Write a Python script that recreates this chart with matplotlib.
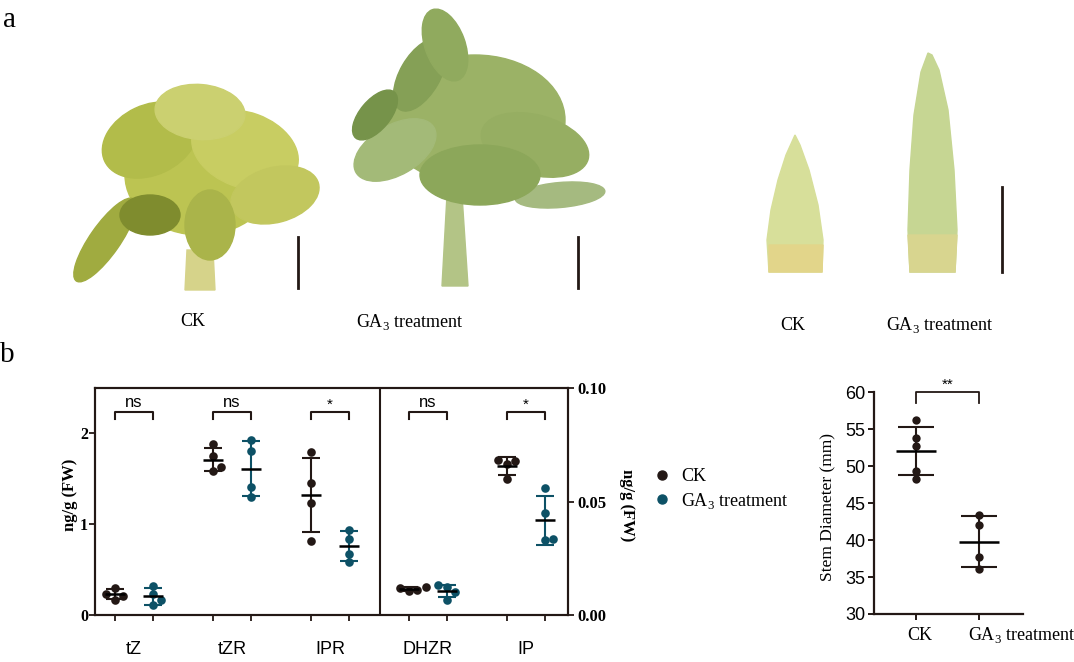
import numpy as np
import matplotlib.pyplot as plt
from matplotlib.patches import Ellipse, Polygon
from matplotlib.lines import Line2D
import matplotlib.transforms as mtrans

plt.rcParams['mathtext.fontset'] = 'custom'
plt.rcParams['mathtext.rm'] = 'Liberation Serif'
SERIF = 'Liberation Serif'
SANS = 'Liberation Sans'

# hormone data (ng/g FW), 4 replicates each
left_groups = ['tZ', 'tZR', 'IPR']
left_ck = [[0.30, 0.23, 0.21, 0.17],
           [1.88, 1.75, 1.63, 1.59],
           [1.79, 1.45, 1.23, 0.81]]
left_ga = [[0.32, 0.23, 0.16, 0.11],
           [1.93, 1.81, 1.41, 1.30],
           [0.94, 0.84, 0.67, 0.58]]
left_sig = ['ns', 'ns', '*']

right_groups = ['DHZR', 'IP']
right_ck = [[0.0125, 0.0117, 0.0112, 0.0106],
            [0.0685, 0.0680, 0.0665, 0.0600]]
right_ga = [[0.0130, 0.0125, 0.0100, 0.0068],
            [0.0558, 0.0448, 0.0335, 0.0330]]
right_sig = ['ns', '*']

# stem diameter (mm)
stem_labels = ['CK', r'GA$_3$ treatment']
stem_ck = [56.3, 53.8, 52.7, 49.3, 48.3]
stem_ga = [43.4, 42.0, 37.7, 36.1]
stem_sig = '**'

CK_COL = '#231815'
GA_COL = '#0d5166'
W, H = 1074, 662


def swarm(vals, ypx, xpx, d=8.5):
    vals = np.asarray(vals, float)
    offs = np.zeros(len(vals))
    placed = []
    for i in np.argsort(vals):
        y = vals[i] * ypx
        for c in [0, d, -d, 2 * d, -2 * d, 3 * d]:
            if all(np.hypot(c - px, y - py) >= d * 0.95 for px, py in placed):
                break
        placed.append((c, y))
        offs[i] = c / xpx
    return offs


def draw_group(ax, pos, vals, col, ypx, xpx, half=0.1, cap=6.5, ms=6.2, d=8.5):
    vals = np.asarray(vals, float)
    m, s = vals.mean(), vals.std(ddof=1)
    ax.errorbar(pos, m, yerr=s, fmt='none', ecolor=col, elinewidth=1.5,
                capsize=cap, capthick=1.5, zorder=2)
    ax.plot(pos + swarm(vals, ypx, xpx, d), vals, 'o', color=col, ms=ms,
            mec='none', zorder=3, clip_on=False)
    ax.hlines(m, pos - half, pos + half, color='black', lw=1.8, zorder=4)


fig = plt.figure(figsize=(W / 100, H / 100), dpi=100)

# ---- panel a: photo placeholders ----
bg = fig.add_axes([0, 0, 1, 1], zorder=-5)
bg.set_xlim(0, W)
bg.set_ylim(H, 0)
bg.axis('off')

ck_leaves = [(200, 175, 150, 120, 0, '#bcc452'), (150, 140, 100, 70, -25, '#b2bc4a'),
             (245, 150, 110, 75, 20, '#c8cd62'), (275, 195, 90, 55, -15, '#c2c75e'),
             (200, 112, 90, 55, 5, '#cbd070'), (105, 240, 100, 30, -55, '#a0ab40'),
             (150, 215, 60, 40, 0, '#7f8c2e'), (210, 225, 50, 70, 0, '#aab44a')]
ga_leaves = [(475, 120, 180, 130, 0, '#9bb266'), (420, 75, 80, 40, -60, '#85a056'),
             (395, 150, 90, 50, -30, '#a3ba78'), (535, 145, 110, 60, 15, '#96ae62'),
             (560, 195, 90, 25, -5, '#a5ba80'), (445, 45, 40, 75, -20, '#90aa5e'),
             (375, 115, 60, 30, -50, '#76934a'), (480, 175, 120, 60, 0, '#8ca75a')]
bg.add_patch(Polygon([(187, 250), (213, 250), (215, 290), (185, 290)], color='#d6d38a'))
bg.add_patch(Polygon([(447, 195), (462, 195), (468, 286), (442, 286)], color='#b3c486'))
for cx, cy, w, h, a, c in ck_leaves + ga_leaves:
    bg.add_patch(Ellipse((cx, cy), w, h, angle=a, color=c))
bg.add_patch(Polygon([(795, 135), (786, 155), (778, 180), (771, 210), (767, 240), (769, 272),
                      (822, 272), (823, 240), (818, 205), (809, 170), (800, 145)],
                     color='#d7df9a'))
bg.add_patch(Polygon([(769, 245), (823, 245), (822, 272), (769, 272)], color='#e2d58a'))
bg.add_patch(Polygon([(928, 53), (921, 72), (914, 115), (910, 170), (908, 230), (910, 272),
                      (955, 272), (957, 230), (954, 170), (948, 110), (939, 70), (932, 55)],
                     color='#c6d693'))
bg.add_patch(Polygon([(908, 235), (957, 235), (955, 272), (910, 272)], color='#d8d58f'))
for x, y0, y1 in [(298, 237, 288), (578, 237, 288), (1002, 187, 272)]:
    bg.plot([x, x], [y0, y1], color=CK_COL, lw=2)

bg.text(3, 27, 'a', fontsize=21, family=SERIF, va='baseline')
bg.text(0, 362, 'b', fontsize=21, family=SERIF, va='baseline')
for x, y, t in [(193, 322, 'CK'), (410, 322, r'GA$_3$ treatment'),
                (793, 325, 'CK'), (940, 325, r'GA$_3$ treatment')]:
    bg.text(x, y, t, fontsize=13, family=SERIF, ha='center', va='center')

# ---- panel b: hormone contents ----
ax = fig.add_axes([95 / W, 1 - 615 / H, 473 / W, 227 / H])
ax.set_xlim(-0.398, 4.43)
ax.set_ylim(0, 2.5)
ax2 = ax.twinx()
ax2.set_ylim(0, 0.1)
xpx = 98
for a_ in (ax, ax2):
    for sp in a_.spines.values():
        sp.set_linewidth(1.5)
        sp.set_color(CK_COL)
ax.axvline(2.51, color=CK_COL, lw=1.5)

pair = 0.194
for i, g in enumerate(left_groups):
    draw_group(ax, i - pair, left_ck[i], CK_COL, 91, xpx)
    draw_group(ax, i + pair, left_ga[i], GA_COL, 91, xpx)
for j, g in enumerate(right_groups):
    i = j + 3
    draw_group(ax2, i - pair, right_ck[j], CK_COL, 2270, xpx)
    draw_group(ax2, i + pair, right_ga[j], GA_COL, 2270, xpx)

trans = mtrans.blended_transform_factory(ax.transData, ax.transAxes)
names = left_groups + right_groups
sigs = left_sig + right_sig
for i, (g, sg) in enumerate(zip(names, sigs)):
    ax.plot([i - pair, i - pair, i + pair, i + pair], [0.862, 0.896, 0.896, 0.862],
            color=CK_COL, lw=1.5, transform=trans)
    ax.text(i, 0.935 if sg == 'ns' else 0.925, sg, transform=trans, ha='center',
            va='center', family=SANS, fontsize=12 if sg == 'ns' else 11)
    ax.text(i, -0.154, g, transform=trans, ha='center', va='center',
            family=SANS, fontsize=13)

xt = [i + s for i in range(5) for s in (-pair, pair)]
ax.set_xticks(xt, [''] * len(xt))
ax.tick_params(axis='x', direction='out', length=4.5, width=1.3, color=CK_COL)
ax.set_yticks([0, 1, 2], ['0', '1', '2'], family=SERIF, fontweight='bold', fontsize=11.5)
ax.tick_params(axis='y', direction='out', length=4, width=1.3, pad=1, color=CK_COL)
ax2.set_yticks([0, 0.05, 0.1], ['0.00', '0.05', '0.10'], family=SERIF,
               fontweight='bold', fontsize=12)
ax2.tick_params(axis='y', direction='out', length=4, width=1.3, pad=3, color=CK_COL)

fig.text(70 / W, 1 - 495 / H, 'ng/g (FW)', rotation=90, ha='center', va='center',
         family=SERIF, fontweight='bold', fontsize=12)
fig.text(627 / W, 1 - 505 / H, 'ng/g (FW)', rotation=270, ha='center', va='center',
         family=SERIF, fontweight='bold', fontsize=12)

handles = [Line2D([], [], ls='none', marker='o', color=CK_COL, ms=6.5),
           Line2D([], [], ls='none', marker='o', color=GA_COL, ms=6.5)]
fig.legend(handles, ['CK', r'GA$_3$ treatment'], loc='center left',
           bbox_to_anchor=(644 / W, 1 - 489.5 / H), frameon=False, borderpad=0,
           handlelength=1, handletextpad=0.55, labelspacing=0.3,
           prop={'family': SERIF, 'size': 13})

# ---- panel b: stem diameter ----
ax3 = fig.add_axes([874 / W, 1 - 614 / H, 149 / W, 221.7 / H])
ax3.set_xlim(-0.67, 1.70)
ax3.set_ylim(30, 60)
for sp in ['top', 'right']:
    ax3.spines[sp].set_visible(False)
for sp in ['left', 'bottom']:
    ax3.spines[sp].set_linewidth(1.6)
    ax3.spines[sp].set_color(CK_COL)
draw_group(ax3, 0, stem_ck, CK_COL, 7.4, 63, half=0.32, cap=13, ms=6, d=5)
draw_group(ax3, 1, stem_ga, CK_COL, 7.4, 63, half=0.32, cap=13, ms=6, d=5)
ax3.plot([0, 0, 1, 1], [58.6, 60, 60, 58.6], color=CK_COL, lw=1.3, clip_on=False)
ax3.text(0.5, 61.0, stem_sig, ha='center', va='center', family=SANS, fontsize=11)
ax3.set_yticks(range(30, 61, 5))
ax3.set_yticklabels([str(v) for v in range(30, 61, 5)], family=SANS, fontsize=13)
ax3.set_xticks([0, 1], ['', ''])
ax3.tick_params(direction='out', length=4, width=1.4, color=CK_COL)
ax3.tick_params(axis='y', pad=2)
strans = mtrans.blended_transform_factory(ax3.transData, ax3.transAxes)
ax3.text(0.06, -0.095, stem_labels[0], transform=strans, ha='center', va='center',
         family=SERIF, fontsize=13)
ax3.text(0.825, -0.095, stem_labels[1], transform=strans, ha='left', va='center',
         family=SERIF, fontsize=13)
fig.text(828 / W, 1 - 507 / H, 'Stem Diameter (mm)', rotation=90, ha='center',
         va='center', family=SERIF, fontsize=12.5)

fig.savefig('out.png', dpi=100)
